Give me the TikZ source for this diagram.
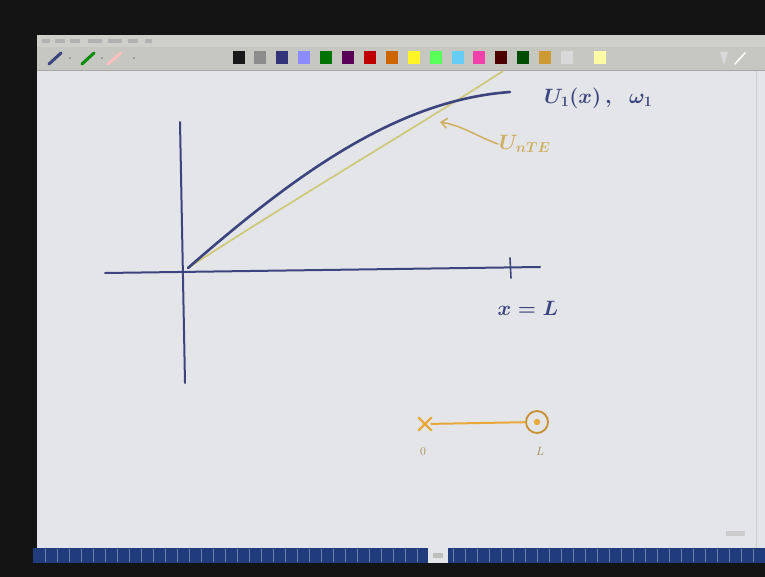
\documentclass[tikz,border=0pt]{standalone}
\usetikzlibrary{arrows.meta,shapes.misc}
\definecolor{board}{HTML}{E3E5E8}
\definecolor{menugray}{HTML}{CFCFC9}
\definecolor{toolgray}{HTML}{C6C7C1}
\definecolor{barblue}{HTML}{203C7C}
\definecolor{ink}{HTML}{3C4480}
\definecolor{paleyel}{HTML}{CFC676}
\definecolor{tanlbl}{HTML}{CFAE62}
\definecolor{orng}{HTML}{E9A93A}
\tikzset{
  handlbl/.style={font=\fontsize{21}{23}\selectfont\boldmath, inner sep=1pt},
  swatch/.style={minimum width=12pt, minimum height=13pt, inner sep=0pt},
}
\begin{document}
\begin{tikzpicture}[x=1pt, y=-1pt, line cap=round]
  \useasboundingbox (0,0) rectangle (765,577);
  % screen and whiteboard
  \fill[black!92] (0,0) rectangle (765,577);
  \fill[menugray] (37,35) rectangle (765,47);
  \fill[toolgray] (37,47) rectangle (765,70);
  \draw[black!35] (37,70.5) -- (765,70.5);
  \fill[board] (37,71) rectangle (765,548);
  \draw[black!20] (756,71) -- (756,548);
  % menu entries (blurred)
  \foreach \x/\w in {42/8, 55/10, 70/10, 88/14, 108/14, 128/10, 145/7}
    \fill[black!30] (\x,39) rectangle ++(\w,4);
  % pens at the left of the toolbar
  \draw[line width=3pt, ink] (49,64) -- (61,53);
  \draw[line width=3pt, green!55!black] (82,64) -- (94,53);
  \draw[line width=3pt, red!25!white] (108,64) -- (121,53);
  \foreach \x in {70,102,134}
    \fill[black!45] (\x,58) circle (1.2);
  % colour palette
  \foreach \c [count=\i] in {black!90, black!45, blue!35!black!80!white, blue!45!white,
      green!45!black, violet!70!black, red!75!black, orange!80!black,
      yellow!85!white, green!65!white, cyan!60!white, magenta!75!white,
      black!70!red, black!70!green, brown!80!yellow, white!85!black}
    \node[swatch, fill=\c] (sw\i) at ({238.5+21.9*(\i-1)}, 58) {};
  \node[swatch, fill=yellow!35!white] (swlast) at (600,58) {};
  \fill[white!85!black] (720,52) -- (728,52) -- (724,65) -- cycle;
  \draw[white, line width=1.5pt] (735,64) -- (745,53);
  % status bar
  \fill[barblue] (33,548) rectangle (765,563);
  \foreach \x in {45,57,...,755}
    \draw[barblue!65!white, line width=0.4pt] (\x,549) -- (\x,562);
  \fill[board] (428,546) rectangle (448,563);
  \fill[black!25] (433,553) rectangle (443,558);
  \fill[black!20] (726,531) rectangle (745,536);

  % axes
  \draw[ink, line width=2pt] (180,122) -- (185,383);
  \draw[ink, line width=2pt] (105,273) -- (540,267);
  \draw[ink, line width=1.6pt] (510,258) -- (511,278);
  % first mode shape and the straight estimate
  \draw[paleyel, line width=1.8pt, densely dotted]
    (188,268) .. controls (300,195) and (420,125) .. (503,71);
  \draw[ink, line width=2.6pt]
    (188,268) .. controls (300,170) and (400,100) .. (510,92);
  % labels
  \node[handlbl, ink, anchor=west] (modelbl) at (543,98) {$U_1(x)\,,\;\;\omega_1$};
  \node[handlbl, tanlbl, anchor=west] (estlbl) at (498,144) {$U_{nTE}$};
  \coordinate (esttip) at (440,122);
  \draw[tanlbl, line width=1.5pt, -{Straight Barb[length=6pt, width=10pt]}]
    (estlbl.west) to[out=160, in=-10] (esttip);
  \node[handlbl, ink] (xlbl) at (528,308) {$x = L$};
  % the bar, fixed at 0 and pinned at L
  \node[cross out, draw=orng, line width=2.4pt, minimum size=10pt, inner sep=0pt] (lftend) at (425,424) {};
  \node[circle, draw=orng!85!black, line width=1.8pt, minimum size=22pt, inner sep=0pt] (rgtend) at (537,422) {};
  \fill[orng] (rgtend.center) circle (3.2);
  \draw[orng, line width=2pt] (lftend) -- (rgtend);
  \node[tanlbl!80!black, font=\fontsize{12}{14}\selectfont] (zerolbl) at (423,452) {$0$};
  \node[tanlbl!80!black, font=\fontsize{12}{14}\selectfont] (elllbl) at (540,451) {$L$};
\end{tikzpicture}
\end{document}
